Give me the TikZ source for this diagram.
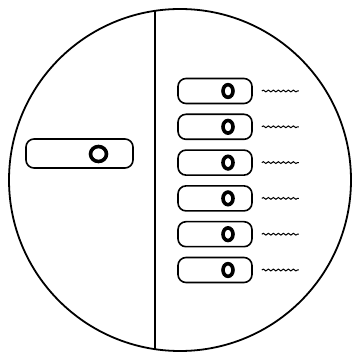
\documentclass[tikz,border=0pt]{standalone}
\usepackage{tikz}
\usetikzlibrary{decorations.pathmorphing, positioning, calc}

\begin{document}
\begin{tikzpicture}[x=1pt, y=-1pt, line width=1.6pt,
    pill/.style={draw, rounded corners=8pt, inner sep=0pt},
    knob/.style={line width=3.6pt},
    wave/.style={line width=1pt, decorate, decoration={snake, amplitude=0.9pt, segment length=5pt}}]
    \useasboundingbox (0,0) rectangle (353,352);
    % lens and divider
    \draw[line width=1.8pt] (180,180) circle [radius=171];
    \draw[line width=1.8pt] (155,11) -- (155,349);
    % single bar on the left
    \node[pill, minimum width=107pt, minimum height=29pt] (bar) at (79.5,153.5) {};
    \draw[knob] (98.5,154) ellipse [x radius=8, y radius=7.5];
    % six bars on the right
    \foreach \i in {0,...,5} {
        \node[pill, minimum width=74pt, minimum height=25pt] (bar\i) at (215,{91+35.8*\i}) {};
        \draw[knob] ($(bar\i.center)+(13,0)$) ellipse [x radius=5, y radius=6.3];
        \coordinate (end\i) at ($(bar\i.east)+(46,0)$);
        \draw[wave] ($(bar\i.east)+(9,0)$) -- (end\i);
    }
\end{tikzpicture}
\end{document}
